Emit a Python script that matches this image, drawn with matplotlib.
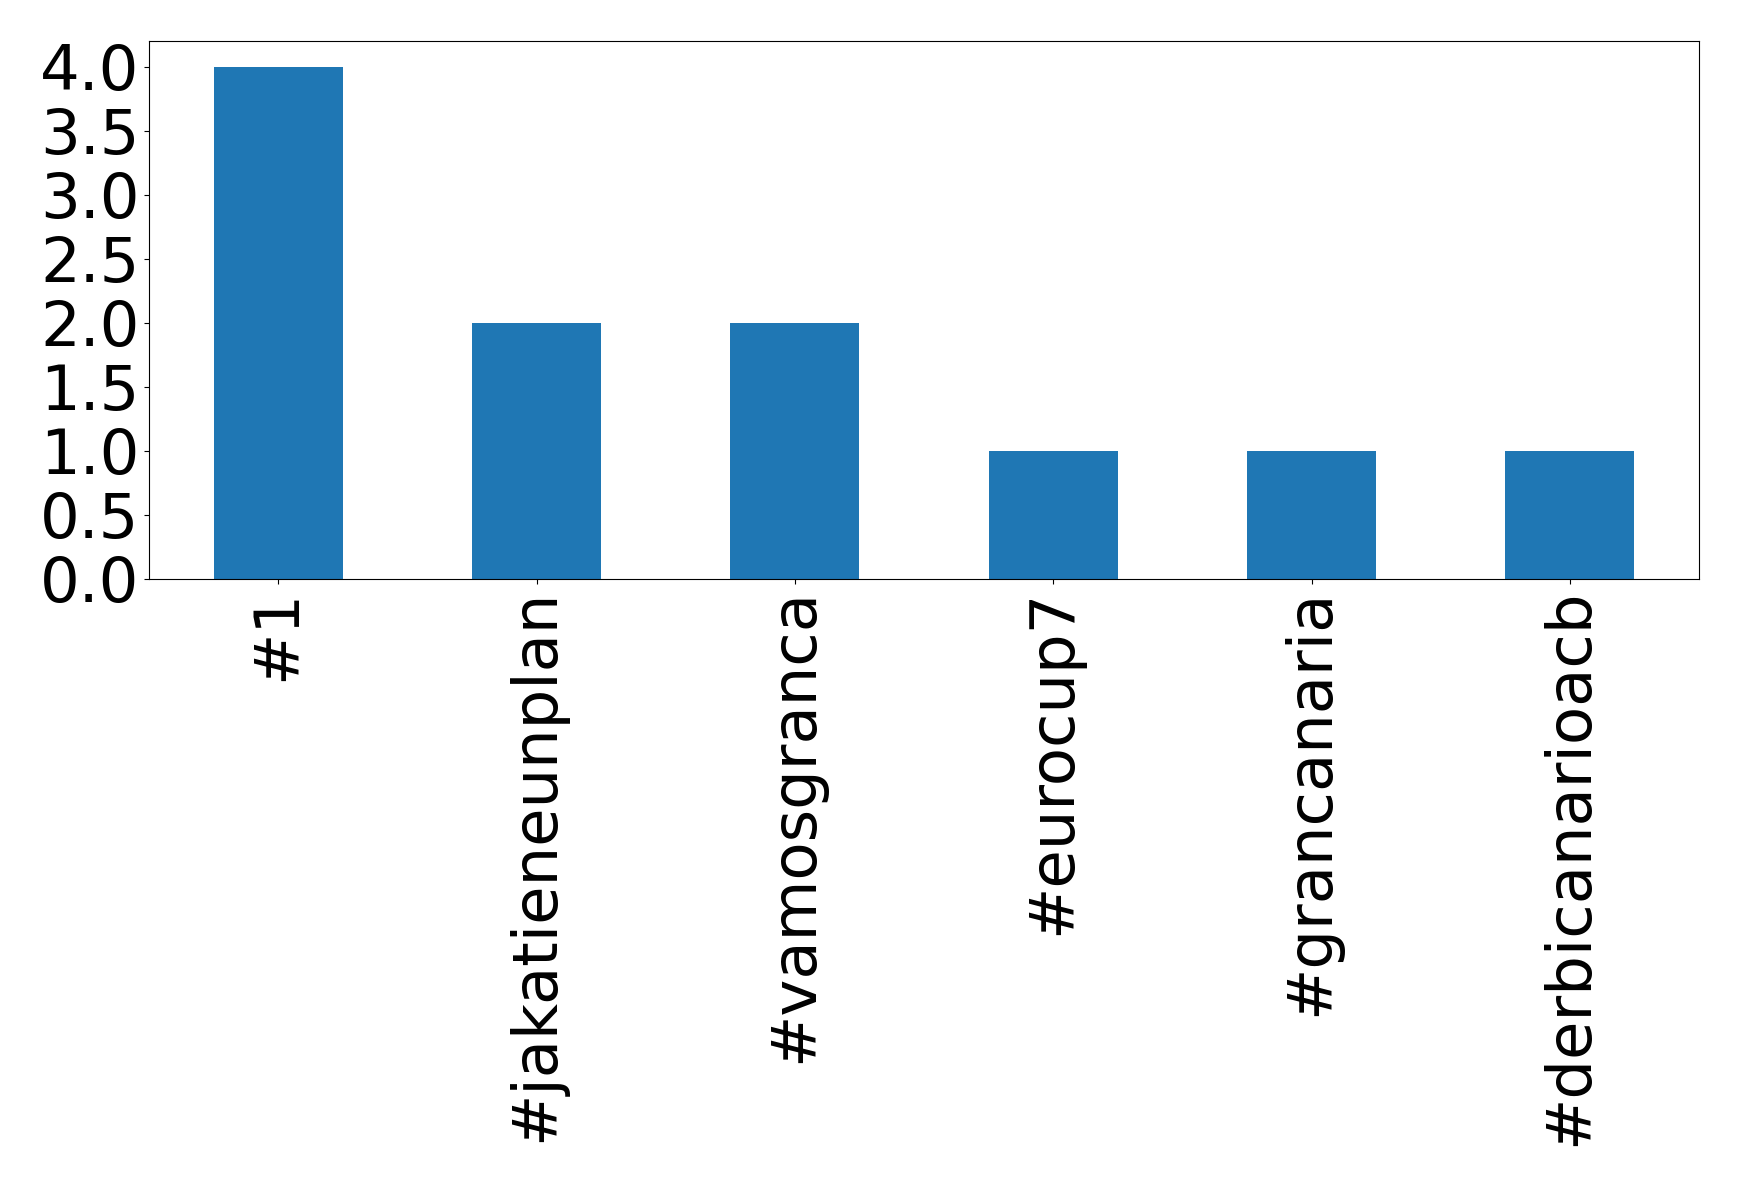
import matplotlib
matplotlib.use("Agg")
import matplotlib.pyplot as plt
from matplotlib.ticker import MultipleLocator
import pandas as pd

hashtags = ["#1", "#jakatieneunplan", "#vamosgranca", "#eurocup7", "#grancanaria", "#derbicanarioacb"]
counts = [4, 2, 2, 1, 1, 1]

fig = plt.figure(figsize=(17.39, 11.86), dpi=100)
ax = fig.add_axes([0.0857, 0.512, 0.8913, 0.4534])
pd.Series(counts, index=hashtags).plot(kind="bar", ax=ax, color="#1f77b4")
ax.yaxis.set_major_locator(MultipleLocator(0.5))
ax.tick_params(axis="both", labelsize=45)
plt.savefig("out.png", dpi=100)
